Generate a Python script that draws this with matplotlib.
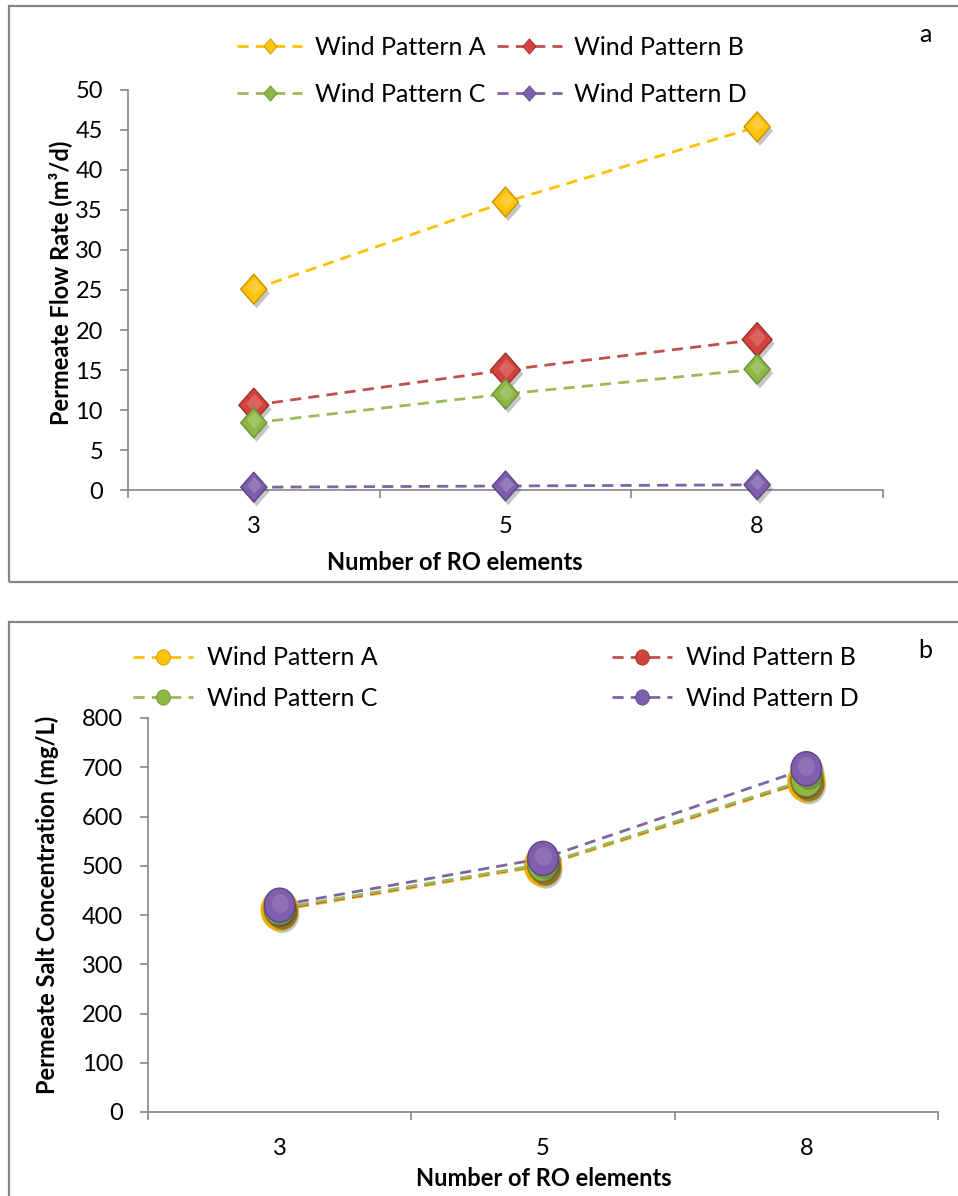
import matplotlib
matplotlib.use("Agg")
import matplotlib.pyplot as plt
import matplotlib.patheffects as pe
from matplotlib.path import Path
from matplotlib.patches import Rectangle
from matplotlib.transforms import Affine2D, offset_copy
import numpy as np

plt.rcParams['font.family'] = ['Lato', 'DejaVu Sans']

# ---- data ----
ro_elements = ["3", "5", "8"]
series_names = ["Wind Pattern A", "Wind Pattern B", "Wind Pattern C", "Wind Pattern D"]

flow_A = [25.1, 36.0, 45.4]
flow_B = [10.6, 15.0, 18.8]
flow_C = [8.4, 12.0, 15.1]
flow_D = [0.35, 0.5, 0.65]

salt_A = [410, 500, 671]
salt_B = [412, 502, 673]
salt_C = [414, 503, 675]
salt_D = [420, 515, 697]

line_colors = ["#FFC000", "#C0504D", "#9BBB59", "#8064A2"]
fill_colors = ["#FCC30A", "#D2433E", "#8DB845", "#7F5EAD"]
edge_colors = ["#C89200", "#9A2F2C", "#6C8F33", "#5E4585"]

W, H = 958, 1196
DPI = 100
fig = plt.figure(figsize=(W / DPI, H / DPI), dpi=DPI)
fig.patch.set_facecolor("white")

GRAY = "#868686"
FS = 17


def fx(px):
    return px / W


def fy(py):
    return 1 - py / H


# panel frames
for top, bottom in [(6, 582), (622, 1210)]:
    fig.patches.append(Rectangle((fx(9), fy(bottom)), fx(970 - 9), fy(top) - fy(bottom),
                                 transform=fig.transFigure, fill=False,
                                 edgecolor=GRAY, linewidth=1.6, zorder=0))

# marker shapes: slightly tall diamond and slightly tall ellipse
diamond = Path([(0, 1), (0.88, 0), (0, -1), (-0.88, 0), (0, 1)],
               [Path.MOVETO, Path.LINETO, Path.LINETO, Path.LINETO, Path.CLOSEPOLY])
ellipse = Path.unit_circle().transformed(Affine2D().scale(0.9, 1.0))


def style_axes(ax, ymax, ystep):
    x = np.arange(len(ro_elements))
    ax.set_xlim(-0.5, len(ro_elements) - 0.5)
    ax.set_ylim(0, ymax)
    ax.set_yticks(np.arange(0, ymax + 1, ystep))
    ax.set_xticks(x)
    ax.set_xticklabels(ro_elements)
    ax.set_xticks(np.arange(-0.5, len(ro_elements)), minor=True)
    for s in ["top", "right"]:
        ax.spines[s].set_visible(False)
    for s in ["left", "bottom"]:
        ax.spines[s].set_color(GRAY)
        ax.spines[s].set_linewidth(1.2)
    ax.tick_params(axis="x", which="major", length=0, pad=19, labelsize=FS)
    ax.tick_params(axis="x", which="minor", length=6, width=1.2, color=GRAY, direction="out")
    ax.tick_params(axis="y", which="major", length=6, width=1.2, color=GRAY, pad=12, labelsize=FS)


def draw_series(ax, values, idx, marker, size, edge_w=1.0, hl_alpha=0.18, edge_col=None):
    x = np.arange(len(values))
    ax.plot(x, values, linestyle="--", dashes=(4, 2.6), color=line_colors[idx], lw=2.0,
            zorder=2 + idx, clip_on=False)
    ax.plot(x, values, linestyle="none", marker=marker, markersize=size,
            markerfacecolor=fill_colors[idx],
            markeredgecolor=edge_col if edge_col else edge_colors[idx],
            markeredgewidth=edge_w, zorder=3 + idx, clip_on=False,
            path_effects=[pe.SimplePatchShadow(offset=(2, -3), shadow_rgbFace="#404040", alpha=0.3),
                          pe.Normal()])
    # soft highlight on the upper part of the marker
    hl = offset_copy(ax.transData, fig=fig, x=0, y=2.5, units="dots")
    ax.plot(x, values, linestyle="none", marker=marker, markersize=size * 0.55,
            markerfacecolor="white", markeredgewidth=0, alpha=hl_alpha, transform=hl,
            zorder=3 + idx, clip_on=False)


def proxy(idx, marker, size):
    return plt.Line2D([], [], linestyle="--", dashes=(4, 2.6), color=line_colors[idx], lw=2.0,
                      marker=marker, markersize=size, markerfacecolor=fill_colors[idx],
                      markeredgecolor=edge_colors[idx], markeredgewidth=0.6)


# legend entries ordered so that rows read A, B / C, D
row_order = [0, 2, 1, 3]

# ---- panel a: permeate flow rate ----
ax1 = fig.add_axes([fx(128), fy(490), fx(883 - 128), fy(90) - fy(490)])
style_axes(ax1, 50, 5)
flows = [flow_A, flow_B, flow_C, flow_D]
sizes_a = [21.5, 24.5, 21.5, 21.5]
for i, vals in enumerate(flows):
    draw_series(ax1, vals, i, diamond, sizes_a[i])

ax1.set_xlabel("Number of RO elements", fontsize=FS, fontweight="bold")
ax1.xaxis.set_label_coords((455 - 128) / 755, (490 - 562) / 400)
ax1.xaxis.label.set_verticalalignment("center")
ax1.set_ylabel("Permeate Flow Rate (m³/d)", fontsize=FS, fontweight="bold")
ax1.yaxis.set_label_coords((60 - 128) / 755, (490 - 283) / 400)
ax1.yaxis.label.set_verticalalignment("center")

handles_a = [proxy(i, diamond, 11) for i in row_order]
labels_a = [series_names[i] for i in row_order]
ax1.legend(handles_a, labels_a, ncol=2, loc="center",
           bbox_to_anchor=(fx(492), fy(71)), bbox_transform=fig.transFigure,
           frameon=False, fontsize=FS + 1, numpoints=1, handlelength=2.6,
           handletextpad=0.5, columnspacing=0.45, labelspacing=0.95)

fig.text(fx(925), fy(35), "a", fontsize=FS + 1, ha="center", va="center")

# ---- panel b: permeate salt concentration ----
ax2 = fig.add_axes([fx(148), fy(1112), fx(938 - 148), fy(718) - fy(1112)])
style_axes(ax2, 800, 100)
salts = [salt_A, salt_B, salt_C, salt_D]
sizes_b = [27, 24.5, 24.5, 24.5]
edge_b = [3.2, 1.0, 1.0, 1.0]
for i, vals in enumerate(salts):
    draw_series(ax2, vals, i, ellipse, sizes_b[i], edge_b[i], hl_alpha=0.12,
                edge_col="#E8B000" if i == 0 else None)

ax2.set_xlabel("Number of RO elements", fontsize=FS, fontweight="bold")
ax2.xaxis.set_label_coords((544 - 148) / 790, (1112 - 1178) / 394)
ax2.xaxis.label.set_verticalalignment("center")
ax2.set_ylabel("Permeate Salt Concentration (mg/L)", fontsize=FS, fontweight="bold")
ax2.yaxis.set_label_coords((47 - 148) / 790, (1112 - 905) / 394)
ax2.yaxis.label.set_verticalalignment("center")

handles_b = [proxy(i, ellipse, 11) for i in row_order]
labels_b = [series_names[i] for i in row_order]
ax2.legend(handles_b, labels_b, ncol=2, loc="center",
           bbox_to_anchor=(fx(496), fy(678)), bbox_transform=fig.transFigure,
           frameon=False, fontsize=FS + 1, numpoints=1, handlelength=2.4,
           handletextpad=0.55, columnspacing=9.4, labelspacing=0.7)

fig.text(fx(925), fy(651), "b", fontsize=FS + 1, ha="center", va="center")

fig.savefig("out.png", dpi=DPI)
